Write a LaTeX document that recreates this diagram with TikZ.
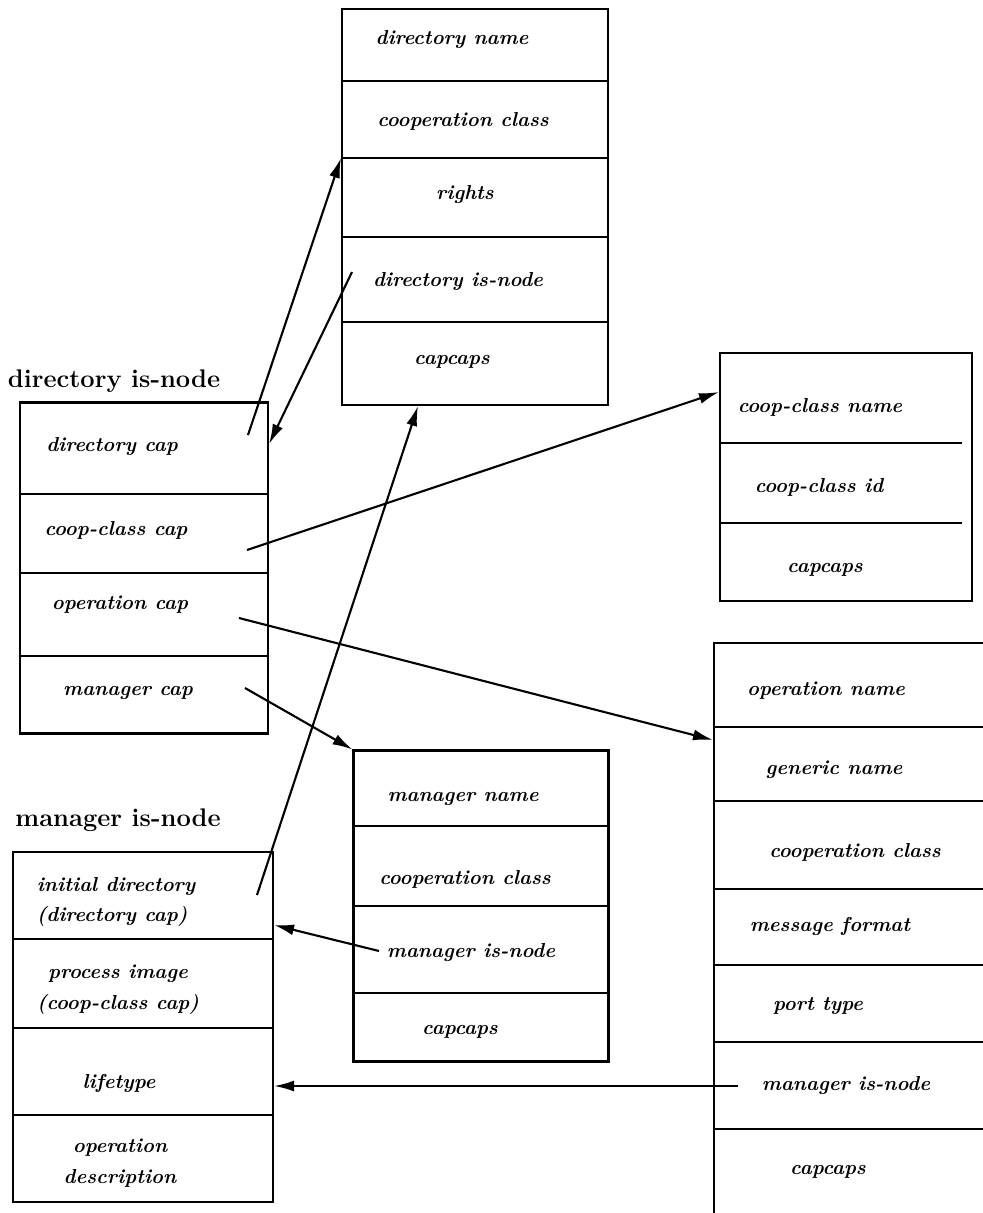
\documentclass[tikz,border=0pt]{standalone}
\usepackage{tikz}
\usetikzlibrary{arrows.meta}
\tikzstyle{record} = [rectangle, draw=black, line width=1.2pt, inner sep=0pt]
\tikzstyle{field} = [font=\fontsize{11.5}{17.5}\selectfont\bfseries\itshape, align=center]
\tikzstyle{title} = [font=\fontsize{14.5}{17}\selectfont\bfseries]
\tikzstyle{divider} = [line width=1.1pt]
\tikzstyle{arrow} = [line width=1.2pt,-{Latex[length=4mm, width=2.2mm]}]

\begin{document}
\begin{tikzpicture}[x=0.02cm, y=-0.02cm]
    \useasboundingbox (0,0) rectangle (983,1213);
    \clip (0,0) rectangle (983,1213);

    % Boxes
    \node (dirobj) [record, minimum width=5.32cm, minimum height=7.92cm] at (475,207) {};
    \node (dirnode) [record, minimum width=4.96cm, minimum height=6.62cm] at (144,568) {};
    \node (coopobj) [record, minimum width=5.04cm, minimum height=4.96cm] at (846,477) {};
    \node (opobj) [record, minimum width=5.96cm, minimum height=12cm] at (863,943) {};
    \node (mgrobj) [record, minimum width=5.1cm, minimum height=6.22cm] at (481,906) {};
    \node (mgrnode) [record, minimum width=5.2cm, minimum height=7.0cm] at (143,1027) {};

    % Titles
    \node (dirtitle) [title] at (114,381) {directory is-node};
    \node (mgrtitle) [title] at (118,820) {manager is-node};

    % Dividers
    \draw [divider] (dirobj.west |- 0,81) -- (dirobj.east |- 0,81);
    \draw [divider] (dirobj.west |- 0,158) -- (dirobj.east |- 0,158);
    \draw [divider] (dirobj.west |- 0,237) -- (dirobj.east |- 0,237);
    \draw [divider] (dirobj.west |- 0,322) -- (dirobj.east |- 0,322);
    \draw [divider] (dirnode.west |- 0,494) -- (dirnode.east |- 0,494);
    \draw [divider] (dirnode.west |- 0,573) -- (dirnode.east |- 0,573);
    \draw [divider] (dirnode.west |- 0,656) -- (dirnode.east |- 0,656);
    \draw [divider] (coopobj.west |- 0,443) -- (962,443);
    \draw [divider] (coopobj.west |- 0,523) -- (962,523);
    \draw [divider] (opobj.west |- 0,727) -- (opobj.east |- 0,727);
    \draw [divider] (opobj.west |- 0,801) -- (opobj.east |- 0,801);
    \draw [divider] (opobj.west |- 0,889) -- (opobj.east |- 0,889);
    \draw [divider] (opobj.west |- 0,965) -- (opobj.east |- 0,965);
    \draw [divider] (opobj.west |- 0,1042) -- (opobj.east |- 0,1042);
    \draw [divider] (opobj.west |- 0,1129) -- (opobj.east |- 0,1129);
    \draw [divider] (mgrobj.west |- 0,826) -- (mgrobj.east |- 0,826);
    \draw [divider] (mgrobj.west |- 0,906) -- (mgrobj.east |- 0,906);
    \draw [divider] (mgrobj.west |- 0,993) -- (mgrobj.east |- 0,993);
    \draw [divider] (mgrnode.west |- 0,939) -- (mgrnode.east |- 0,939);
    \draw [divider] (mgrnode.west |- 0,1028) -- (mgrnode.east |- 0,1028);
    \draw [divider] (mgrnode.west |- 0,1115) -- (mgrnode.east |- 0,1115);

    % Fields
    \node (dirname) [field] at (452,40) {directory name};
    \node (dirclass) [field] at (463,121) {cooperation class};
    \node (rights) [field] at (465,195) {rights};
    \node (dirisnode) [field] at (458,282) {directory is-node};
    \node (dircapcaps) [field] at (452,362) {capcaps};

    \node (dircap) [field] at (112,447) {directory cap};
    \node (coopcap) [field] at (116,530) {coop-class cap};
    \node (opcap) [field] at (120,605) {operation cap};
    \node (mgrcap) [field] at (128,693) {manager cap};

    \node (coopname) [field] at (820,407) {coop-class name};
    \node (coopid) [field] at (819,487) {coop-class id};
    \node (coopcapcaps) [field] at (825,570) {capcaps};

    \node (opname) [field] at (826,691) {operation name};
    \node (genname) [field] at (834,770) {generic name};
    \node (opclass) [field] at (855,852) {cooperation class};
    \node (msgformat) [field] at (830,926) {message format};
    \node (porttype) [field] at (818,1006) {port type};
    \node (opmgr) [field] at (846,1086) {manager is-node};
    \node (opcapcaps) [field] at (828,1172) {capcaps};

    \node (mgrname) [field] at (463,799) {manager name};
    \node (mgrclass) [field] at (465,879) {cooperation class};
    \node (mgrisnode) [field] at (471,953) {manager is-node};
    \node (mgrcapcaps) [field] at (460,1032) {capcaps};

    \node (initdir) [field, align=left] at (116,902) {initial directory\\(directory cap)};
    \node (procimg) [field] at (118,990) {process image\\(coop-class cap)};
    \node (lifetype) [field] at (119,1083) {lifetype};
    \node (opdesc) [field] at (120,1163) {operation\\description};

    % Free ends
    \coordinate (dircapend) at (248,435);
    \coordinate (dirisend) at (352,272);
    \coordinate (coopcapend) at (247,550);
    \coordinate (opcapend) at (239,618);
    \coordinate (mgrcapend) at (245,688);
    \coordinate (initdirend) at (257,895);
    \coordinate (mgrisend) at (379,951);
    \coordinate (opmgrend) at (738,1086);

    % Arrows
    \draw [arrow] (dircapend) -- (dirobj.west |- 0,158);
    \draw [arrow] (dirisend) -- (dirnode.east |- 0,444);
    \draw [arrow] (coopcapend) -- (coopobj.west |- 0,392);
    \draw [arrow] (opcapend) -- (opobj.west |- 0,740);
    \draw [arrow] (mgrcapend) -- (mgrobj.north west);
    \draw [arrow] (initdirend) -- (dirobj.south -| 418,0);
    \draw [arrow] (mgrisend) -- (mgrnode.east |- 0,925);
    \draw [arrow] (opmgrend) -- (mgrnode.east |- 0,1086);
\end{tikzpicture}
\end{document}
